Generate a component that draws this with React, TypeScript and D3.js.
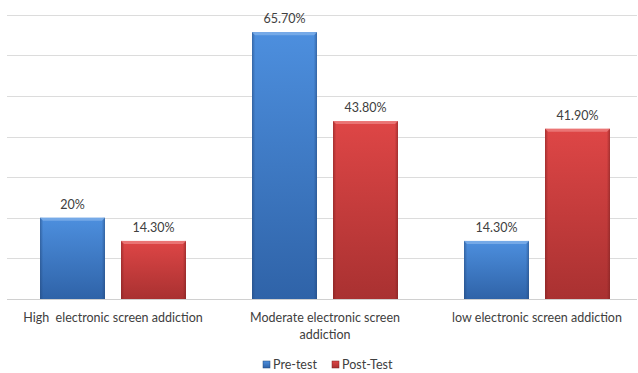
import React, { useEffect, useRef } from 'react';
import * as d3 from 'd3';

const categories = [
  ['High  electronic screen addiction'],
  ['Moderate electronic screen', 'addiction'],
  ['low electronic screen addiction'],
];
const seriesNames = ['Pre-test', 'Post-Test'];
const preTest = [20, 65.7, 14.3];
const postTest = [14.3, 43.8, 41.9];
const preLabels = ['20%', '65.70%', '14.30%'];
const postLabels = ['14.30%', '43.80%', '41.90%'];
const yTicks = [0, 10, 20, 30, 40, 50, 60, 70];

const W = 638;
const H = 373;
const FONT = 'Lato, "Open Sans", sans-serif';

const App = () => {
  const ref = useRef(null);

  useEffect(() => {
    const svg = d3.select(ref.current);
    svg.selectAll('*').remove();

    const x = d3.scaleBand().domain(['0', '1', '2']).range([7, 643]).paddingInner(0).paddingOuter(0);
    const y = d3.scaleLinear().domain([0, 70]).range([299, 14.7]);

    const defs = svg.append('defs');
    const palette = [
      { id: 'blue', top: '#4d8fde', bottom: '#2f63a8', edge: '#23477a', hi: '#7fb0ea' },
      { id: 'red', top: '#de4646', bottom: '#a93131', edge: '#7a2020', hi: '#ee8080' },
    ];
    palette.forEach(p => {
      const g = defs.append('linearGradient').attr('id', 'g-' + p.id).attr('x1', 0).attr('y1', 0).attr('x2', 0).attr('y2', 1);
      g.append('stop').attr('offset', '0%').attr('stop-color', p.top);
      g.append('stop').attr('offset', '100%').attr('stop-color', p.bottom);
      const e = defs.append('linearGradient').attr('id', 'e-' + p.id).attr('x1', 0).attr('y1', 0).attr('x2', 1).attr('y2', 0);
      e.append('stop').attr('offset', '0%').attr('stop-color', p.edge).attr('stop-opacity', 0.55);
      e.append('stop').attr('offset', '5%').attr('stop-color', p.edge).attr('stop-opacity', 0);
      e.append('stop').attr('offset', '95%').attr('stop-color', p.edge).attr('stop-opacity', 0);
      e.append('stop').attr('offset', '100%').attr('stop-color', p.edge).attr('stop-opacity', 0.55);
    });

    // gridlines
    svg.append('g')
      .selectAll('line')
      .data(yTicks)
      .join('line')
      .attr('x1', 7)
      .attr('x2', 637)
      .attr('y1', d => Math.round(y(d)) + 0.5)
      .attr('y2', d => Math.round(y(d)) + 0.5)
      .attr('stroke', d => (d === 0 ? '#d0d0d0' : '#dcdcdc'))
      .attr('stroke-width', 1);

    const barW = 65;
    const gap = 16;
    const series = [
      { values: preTest, labels: preLabels, pal: palette[0], offset: -(gap / 2 + barW) },
      { values: postTest, labels: postLabels, pal: palette[1], offset: gap / 2 },
    ];

    series.forEach(s => {
      const g = svg.append('g');
      s.values.forEach((v, i) => {
        const cx = x(String(i)) + x.bandwidth() / 2;
        const bx = cx + s.offset;
        const by = y(v);
        const bh = y(0) - by;
        g.append('rect').attr('x', bx).attr('y', by).attr('width', barW).attr('height', bh).attr('fill', `url(#g-${s.pal.id})`);
        g.append('rect').attr('x', bx).attr('y', by).attr('width', barW).attr('height', bh).attr('fill', `url(#e-${s.pal.id})`);
        // top bevel
        g.append('path')
          .attr('d', `M${bx},${by} L${bx + barW},${by} L${bx + barW - 3},${by + 3} L${bx + 3},${by + 3} Z`)
          .attr('fill', s.pal.hi)
          .attr('opacity', 0.8);
        g.append('text')
          .attr('x', bx + barW / 2)
          .attr('y', by - 9)
          .attr('text-anchor', 'middle')
          .attr('font-family', FONT)
          .attr('font-size', 12.5)
          .attr('fill', '#404040')
          .text(s.labels[i]);
      });
    });

    // category labels
    categories.forEach((lines, i) => {
      const cx = x(String(i)) + x.bandwidth() / 2;
      const t = svg.append('text')
        .attr('text-anchor', 'middle')
        .attr('font-family', FONT)
        .attr('font-size', 12.5)
        .attr('fill', '#404040');
      lines.forEach((ln, k) => {
        t.append('tspan').attr('x', cx).attr('y', 322 + k * 16.5).attr('xml:space', 'preserve').style('white-space', 'pre').text(ln);
      });
    });

    // legend
    const legend = svg.append('g');
    const legendX = [263, 332];
    seriesNames.forEach((name, i) => {
      legend.append('rect')
        .attr('x', legendX[i])
        .attr('y', 361)
        .attr('width', 7)
        .attr('height', 7)
        .attr('fill', `url(#g-${palette[i].id})`)
        .attr('stroke', palette[i].edge)
        .attr('stroke-width', 0.5);
      legend.append('text')
        .attr('x', legendX[i] + 10)
        .attr('y', 369)
        .attr('font-family', FONT)
        .attr('font-size', 12.5)
        .attr('fill', '#404040')
        .text(name);
    });
  }, []);

  return (
    <svg ref={ref} width={W} height={H} style={{ position: 'absolute', left: 0, top: 0, background: '#fff' }} />
  );
};

export default App;
